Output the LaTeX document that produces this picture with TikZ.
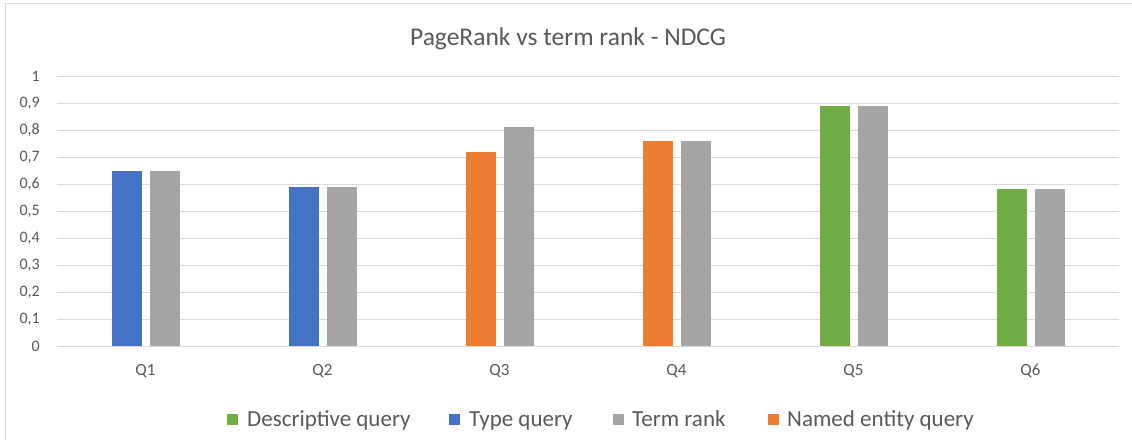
\documentclass[tikz,border=0pt]{standalone}
\usepackage{fontspec}
\setmainfont{Carlito}
\definecolor{txtgray}{HTML}{595959}
\definecolor{gridgray}{HTML}{D9D9D9}
\definecolor{framegray}{HTML}{D9D9D9}
\definecolor{descq}{HTML}{70AD47}
\definecolor{typeq}{HTML}{4472C4}
\definecolor{termr}{HTML}{A5A5A5}
\definecolor{namedq}{HTML}{ED7D31}
\begin{document}
\begin{tikzpicture}[x=1pt,y=-1pt,
  gridline/.style={draw=gridgray,line width=1pt},
  barfill/.style={fill=#1,draw=none},
  ticklabel/.style={text=txtgray,font=\fontsize{16}{19}\selectfont,inner sep=0pt},
  catlabel/.style={text=txtgray,font=\fontsize{17}{20}\selectfont,inner sep=0pt},
  legtext/.style={text=txtgray,font=\fontsize{23}{27}\selectfont,inner sep=0pt,anchor=base west},
  legsquare/.style={fill=#1,draw=none,minimum size=11pt,inner sep=0pt,anchor=west},
  titletext/.style={text=txtgray,font=\fontsize{25.5}{30}\selectfont,inner sep=0pt,anchor=base}]
\useasboundingbox (0,0) rectangle (1132,439);
% chart frame, open to the right and bottom
\begin{scope}
  \clip (0,0) rectangle (1132,439);
  \draw[draw=framegray,line width=1pt] (5.5,3.5) rectangle (1150,460);
\end{scope}
% title
\node[titletext] (title) at (568,45) {PageRank vs term rank - NDCG};
% horizontal grid and value labels
\foreach \k/\lab in {0/0,1/{0,1},2/{0,2},3/{0,3},4/{0,4},5/{0,5},6/{0,6},7/{0,7},8/{0,8},9/{0,9},10/1}{
  \coordinate (g\k) at (57,346-27*\k);
  \coordinate (h\k) at (1119,346-27*\k);
  \draw[gridline] (g\k) -- (h\k);
  \node[ticklabel,anchor=east] (yl\k) at (40,346-27*\k) {\lab};
}
% bars: category index / colour of first bar / first value / second value
\foreach \i/\col/\va/\vb in {1/typeq/0.65/0.65,2/typeq/0.59/0.59,3/namedq/0.72/0.81,4/namedq/0.76/0.76,5/descq/0.89/0.89,6/descq/0.58/0.58}{
  \pgfmathsetmacro\cx{57+177*(\i-0.5)}
  \fill[barfill=\col] (\cx-34,346) rectangle (\cx-4,346-270*\va);
  \fill[barfill=termr] (\cx+4,346) rectangle (\cx+34,346-270*\vb);
  \node[catlabel,anchor=base] (q\i) at (\cx,375) {Q\i};
}
% legend
\node[legsquare=descq] (ls1) at (227,419) {};
\node[legtext] (lt1) at (247,426) {Descriptive query};
\node[legsquare=typeq] (ls2) at (449,419) {};
\node[legtext] (lt2) at (469,426) {Type query};
\node[legsquare=termr] (ls3) at (613,419) {};
\node[legtext] (lt3) at (632,426) {Term rank};
\node[legsquare=namedq] (ls4) at (768,419) {};
\node[legtext] (lt4) at (787,426) {Named entity query};
\end{tikzpicture}
\end{document}
